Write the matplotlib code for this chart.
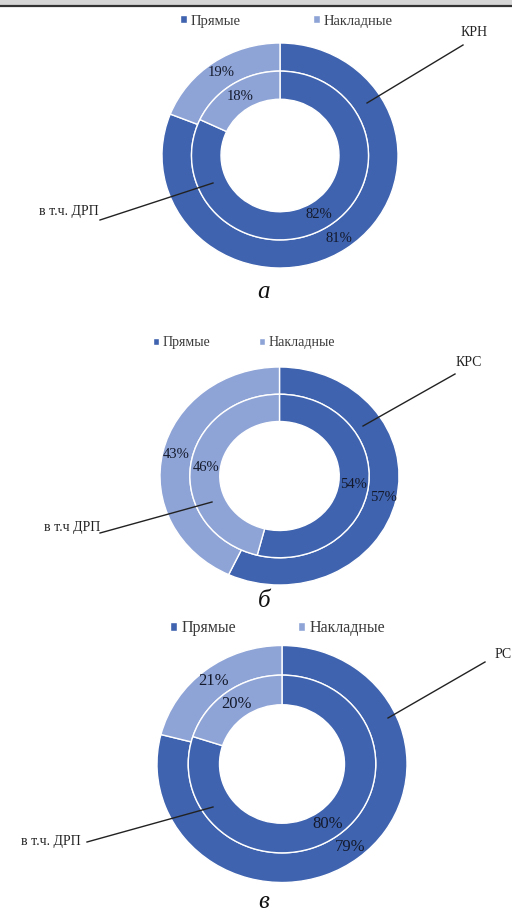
import matplotlib
matplotlib.use("Agg")
import matplotlib.pyplot as plt
from matplotlib.lines import Line2D
from matplotlib.patches import Rectangle

plt.rcParams['font.family'] = ['Liberation Serif', 'DejaVu Serif']

W, H = 512, 915

# data
categories = ["Прямые", "Накладные"]
outer_names = ["КРН", "КРС", "РС"]
inner_names = ["в т.ч. ДРП", "в т.ч ДРП", "в т.ч. ДРП"]
outer_vals = [[81, 19], [57, 43], [79, 21]]
inner_vals = [[82, 18], [54, 46], [80, 20]]
panel_letters = ["а", "б", "в"]

colors = ["#3F63AF", "#8FA4D6"]

# layout in pixels: centre x, centre y, radius x, radius y
geom = [(280, 155.5, 118, 112.5), (279.5, 476, 119.5, 109), (282, 764, 125, 118.5)]
legend_pos = [(180, 21, 10.5, 5.0), (153, 343, 10.0, 3.5), (170, 628, 11.5, 3.9)]
pct_size = [10.5, 10.5, 12]
outer_lbl = [(488, 33, 463, 45, 367, 103), (482, 363, 455, 374, 363, 426), (512, 655, 485, 662, 388, 718)]
inner_lbl = [(99, 212, 100, 220, 213, 183), (100, 527, 100, 533, 212, 502), (81, 841, 87, 842, 213, 807)]
letter_y = [292, 601, 902]


def fx(x):
    return x / W


def fy(y):
    return 1 - y / H


fig = plt.figure(figsize=(W / 100, H / 100), dpi=100)

# top strip of the page
fig.add_artist(Rectangle((0, fy(5)), 1, 5 / H, transform=fig.transFigure,
                         facecolor="#d6d6d6", edgecolor="none"))
fig.add_artist(Line2D([0, 1], [fy(5.5), fy(5.5)], transform=fig.transFigure,
                      color="#333333", linewidth=1.6))

for i in range(3):
    cx, cy, rx, ry = geom[i]
    ax = fig.add_axes([fx(cx - rx), fy(cy + ry), 2 * rx / W, 2 * ry / H])
    wp = dict(width=0.25, edgecolor="white", linewidth=1.0)
    tp = dict(fontsize=pct_size[i], color="#141a2c")
    w_out, _, _ = ax.pie(outer_vals[i], radius=1.0, colors=colors, startangle=90,
                         counterclock=False, wedgeprops=wp, autopct="%d%%",
                         pctdistance=0.89, textprops=tp)
    ax.pie(inner_vals[i], radius=0.75, colors=colors, startangle=90,
           counterclock=False, wedgeprops=wp, autopct="%d%%",
           pctdistance=0.83, textprops=tp)
    ax.set_aspect("auto")
    ax.set_xlim(-1, 1)
    ax.set_ylim(-1, 1)
    ax.axis("off")

    lx, ly, fsz, csp = legend_pos[i]
    fig.legend(w_out, categories, loc="center left",
               bbox_to_anchor=(fx(lx), fy(ly)), ncol=2, frameon=False,
               borderpad=0, borderaxespad=0, handlelength=0.45, handleheight=0.45,
               handletextpad=0.25, columnspacing=csp,
               prop=dict(size=fsz), labelcolor="#3a3a3a")

    # callouts
    tx, ty, x1, y1, x2, y2 = outer_lbl[i]
    fig.text(fx(tx), fy(ty), outer_names[i], ha="right", va="center",
             fontsize=10, color="#222222")
    fig.add_artist(Line2D([fx(x1), fx(x2)], [fy(y1), fy(y2)],
                          transform=fig.transFigure, color="#222222", linewidth=1.0))
    tx, ty, x1, y1, x2, y2 = inner_lbl[i]
    fig.text(fx(tx), fy(ty), inner_names[i], ha="right", va="center",
             fontsize=10, color="#222222")
    fig.add_artist(Line2D([fx(x1), fx(x2)], [fy(y1), fy(y2)],
                          transform=fig.transFigure, color="#222222", linewidth=1.0))

    fig.text(fx(264), fy(letter_y[i]), panel_letters[i], ha="center", va="center",
             fontsize=18, style="italic", color="#111111")

fig.savefig("out.png", dpi=100)
